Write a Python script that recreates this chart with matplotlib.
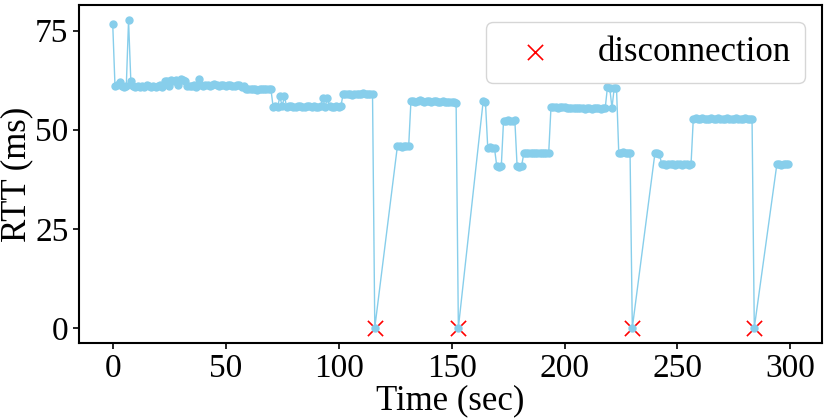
import numpy as np
import matplotlib.pyplot as plt

plt.rcParams['font.family'] = ['Liberation Serif', 'DejaVu Serif']

# RTT samples (one per second)
time = [
    0, 1, 2, 3, 4, 5, 6, 7, 8, 9, 10, 11, 12, 13, 14, 15, 16, 17, 18, 19,
    20, 21, 22, 23, 24, 25, 26, 27, 28, 29, 30, 31, 32, 33, 34, 35, 36, 37, 38, 39,
    40, 41, 42, 43, 44, 45, 46, 47, 48, 49, 50, 51, 52, 53, 54, 55, 56, 57, 58, 59,
    60, 61, 62, 63, 64, 65, 66, 67, 68, 69, 70, 71, 72, 73, 74, 75, 76, 77, 78, 79,
    80, 81, 82, 83, 84, 85, 86, 87, 88, 89, 90, 91, 92, 93, 94, 95, 96, 97, 98, 99,
    100, 101, 102, 103, 104, 105, 106, 107, 108, 109, 110, 111, 112, 113, 114, 115, 116,
    126, 127, 128, 129, 130, 131, 132, 133, 134, 135, 136, 137, 138, 139, 140, 141,
    142, 143, 144, 145, 146, 147, 148, 149, 150, 151, 152, 153,
    164, 165, 166, 167, 168, 169, 170, 171, 172, 173, 174, 175, 176, 177, 178, 179,
    180, 181, 182, 183, 184, 185, 186, 187, 188, 189, 190, 191, 192, 193, 194, 195,
    196, 197, 198, 199, 200, 201, 202, 203, 204, 205, 206, 207, 208, 209, 210, 211,
    212, 213, 214, 215, 216, 217, 218, 219, 220, 221, 222, 223, 224, 225, 226, 227,
    228, 229, 230,
    240, 241, 242, 243, 244, 245, 246, 247, 248, 249, 250, 251, 252, 253, 254, 255,
    256, 257, 258, 259, 260, 261, 262, 263, 264, 265, 266, 267, 268, 269, 270, 271,
    272, 273, 274, 275, 276, 277, 278, 279, 280, 281, 282, 283, 284,
    294, 295, 296, 297, 298, 299,
]
rtt = [
    76.6, 61.0, 61.2, 62.0, 61.1, 60.9, 61.0, 77.6, 62.4,
    61.0, 60.9, 61.1, 60.8, 61.0, 60.9, 61.2, 61.0, 60.8, 61.1, 60.9, 61.0, 61.2, 60.9,
    62.4, 62.3, 61.0, 62.5, 62.4, 62.6, 61.2, 62.7, 62.5, 62.4, 61.0,
    61.1, 61.0, 61.2, 60.9, 62.9,
    61.2, 61.0, 61.3, 61.4, 61.1, 61.2, 61.5, 61.3, 61.0, 61.2,
    61.3, 61.1, 61.4, 61.2, 61.0, 61.1, 61.3, 61.2, 60.9, 61.0,
    60.4, 60.3, 60.2, 60.4, 60.3, 60.1, 60.3, 60.2, 60.4, 60.3, 60.2, 60.3,
    55.8, 55.9, 55.7, 58.4, 55.9, 58.4, 55.8, 56.0, 55.9, 55.7,
    55.8, 56.0, 55.9, 55.8, 55.7, 55.9, 56.0, 55.8, 55.9, 55.7,
    55.8, 55.9, 58.0, 55.8, 58.0, 55.9, 55.7, 55.8, 55.9, 55.8, 56.0,
    59.0, 58.9, 59.1, 59.0, 58.8, 59.0, 59.1, 58.9, 59.0, 59.2, 59.0, 58.9, 59.1, 59.0,
    0.0,
    45.8, 45.9, 45.7, 45.8, 45.9, 45.8,
    57.2, 57.3, 57.1, 57.2, 57.4, 57.2, 57.0, 57.3, 57.2, 57.1, 57.2,
    57.3, 57.1, 57.0, 57.2, 57.1, 57.0, 56.9, 57.1, 56.9, 56.8,
    0.0,
    57.3, 56.9, 45.5, 45.6, 45.4, 45.3, 40.8, 40.7, 40.8,
    52.3, 52.2, 52.4, 52.1, 52.3, 52.4, 40.8, 40.7, 40.9,
    44.1, 44.2, 44.0, 44.1, 44.2, 44.1, 44.0, 44.2, 44.1, 44.0, 44.1, 44.2,
    55.7, 55.8, 55.7, 55.6, 55.8, 55.7, 55.7, 55.6, 55.5, 55.6, 55.5, 55.4, 55.5,
    55.6, 55.4, 55.3, 55.5, 55.4, 55.3, 55.5, 55.6, 55.4, 55.3, 55.5, 55.4,
    60.8, 60.6, 55.5, 60.6, 60.5,
    44.2, 44.1, 44.3, 44.2, 44.1, 44.2,
    0.0,
    44.0, 44.1, 43.9,
    41.3, 41.4, 41.2, 41.3, 41.4, 41.3, 41.2, 41.4, 41.3, 41.2, 41.3, 41.4, 41.2, 41.3,
    52.8, 52.9, 52.7, 52.8, 52.9, 52.8, 52.7, 52.8, 52.9, 52.8, 52.7, 52.9, 52.8, 52.8,
    52.7, 52.9, 52.8, 52.7, 52.8, 52.9, 52.8, 52.7, 52.8, 52.9, 52.7, 52.8, 52.8,
    0.0,
    41.3, 41.4, 41.2, 41.3, 41.4, 41.3,
]

# disconnection events
disc_time = [116, 153, 230, 284]
disc_rtt = [0, 0, 0, 0]

fig = plt.figure(figsize=(8.26, 4.2), dpi=100)
ax = fig.add_axes([0.0956, 0.183, 0.8995, 0.805])

ax.scatter(disc_time, disc_rtt, marker='x', color='red', s=120, linewidths=1.2,
           label='disconnection', zorder=2)
ax.plot(time, rtt, color='skyblue', marker='o', markersize=5, linewidth=1.0, zorder=3)

ax.set_xlabel('Time (sec)', fontsize=25, labelpad=0)
ax.set_ylabel('RTT (ms)', fontsize=25, labelpad=1)
ax.set_xticks([0, 50, 100, 150, 200, 250, 300])
ax.set_yticks([0, 25, 50, 75])
ax.tick_params(labelsize=24, width=1.2, length=4)
for s in ax.spines.values():
    s.set_linewidth(1.5)

ax.legend(loc='upper right', fontsize=25, handletextpad=0.8)

fig.savefig('out.png', dpi=100)
